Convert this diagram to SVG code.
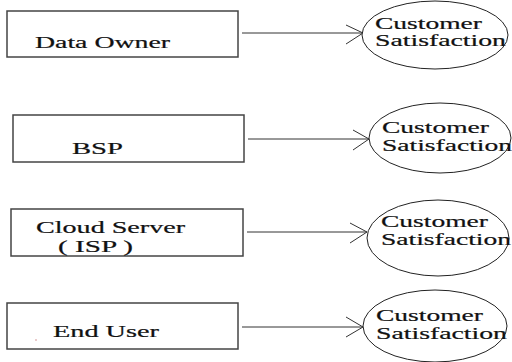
<svg xmlns="http://www.w3.org/2000/svg" width="512" height="362" viewBox="0 0 512 362">
  <style>
    .box { fill: #fff; stroke: #444; stroke-width: 1.5; }
    .oval { fill: #fff; stroke: #222; stroke-width: 1; }
    .lbl { font-family: "Liberation Serif", "DejaVu Serif", serif; font-size: 16px; fill: #111; stroke: #111; stroke-width: 0.2; }
    .wire { stroke: #333; stroke-width: 1; fill: none; }
  </style>
  <rect width="512" height="362" fill="#fff"/>

  <g id="connectors">
    <line class="wire" x1="242" y1="33" x2="363" y2="33"/>
    <polyline class="wire" points="346,25 363,33 346,44"/>
    <line class="wire" x1="248" y1="139" x2="369" y2="139"/>
    <polyline class="wire" points="353,130 369,139 353,150"/>
    <line class="wire" x1="247" y1="232" x2="367" y2="232"/>
    <polyline class="wire" points="350,223 367,232 350,243"/>
    <line class="wire" x1="242" y1="327" x2="363" y2="327"/>
    <polyline class="wire" points="346,317 363,327 346,337"/>
  </g>

  <!-- labels use a wide, horizontally stretched serif face -->
  <g id="data-owner">
    <rect class="box" x="7" y="11" width="231" height="46"/>
    <text class="lbl" x="35" y="48" textLength="135" lengthAdjust="spacingAndGlyphs">Data Owner</text>
  </g>
  <g id="bsp">
    <rect class="box" x="13" y="115" width="231" height="47"/>
    <text class="lbl" x="72" y="154" textLength="51" lengthAdjust="spacingAndGlyphs">BSP</text>
  </g>
  <g id="cloud-server">
    <rect class="box" x="11" y="209" width="232" height="47"/>
    <text class="lbl" x="36" y="233" textLength="149" lengthAdjust="spacingAndGlyphs">Cloud Server</text>
    <text class="lbl" x="58" y="252" textLength="75" lengthAdjust="spacingAndGlyphs">( ISP )</text>
  </g>
  <g id="end-user">
    <rect class="box" x="7" y="303" width="231" height="46"/>
    <text class="lbl" x="53" y="337" textLength="106" lengthAdjust="spacingAndGlyphs">End User</text>
    <rect x="35.5" y="339.5" width="1" height="1" fill="#a33"/>
  </g>

  <g id="satisfaction-1">
    <ellipse class="oval" cx="435" cy="35" rx="73" ry="34"/>
    <text class="lbl" x="375" y="29" textLength="107" lengthAdjust="spacingAndGlyphs">Customer</text>
    <text class="lbl" x="375" y="46" textLength="131" lengthAdjust="spacingAndGlyphs">Satisfaction</text>
  </g>
  <g id="satisfaction-2">
    <ellipse class="oval" cx="440" cy="138" rx="71" ry="35"/>
    <text class="lbl" x="382" y="133" textLength="107" lengthAdjust="spacingAndGlyphs">Customer</text>
    <text class="lbl" x="382" y="151" textLength="130" lengthAdjust="spacingAndGlyphs">Satisfaction</text>
  </g>
  <g id="satisfaction-3">
    <ellipse class="oval" cx="438" cy="238" rx="71" ry="38"/>
    <text class="lbl" x="381" y="227" textLength="107" lengthAdjust="spacingAndGlyphs">Customer</text>
    <text class="lbl" x="381" y="245" textLength="130" lengthAdjust="spacingAndGlyphs">Satisfaction</text>
  </g>
  <g id="satisfaction-4">
    <ellipse class="oval" cx="435" cy="326" rx="72" ry="36"/>
    <text class="lbl" x="376" y="321" textLength="107" lengthAdjust="spacingAndGlyphs">Customer</text>
    <text class="lbl" x="376" y="339" textLength="131" lengthAdjust="spacingAndGlyphs">Satisfaction</text>
  </g>
</svg>
